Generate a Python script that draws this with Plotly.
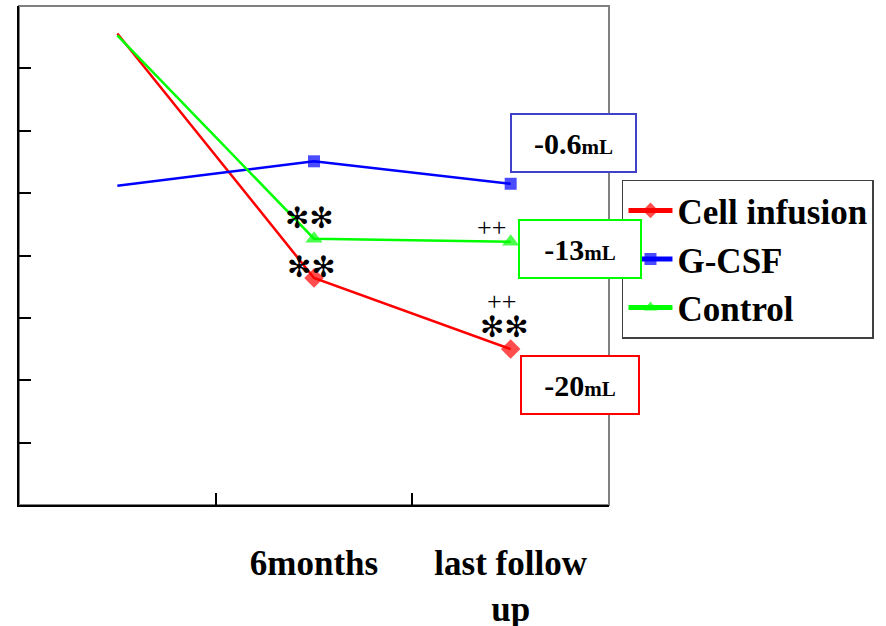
import plotly.graph_objects as go

categories = ["baseline", "6months", "last follow up"]
tick_labels = ["", "<b>6months</b>", "<b>last follow<br>up</b>"]
cell_infusion = [7.56, 3.64, 2.50]
gcsf = [5.12, 5.51, 5.15]
control = [7.53, 4.27, 4.22]

FONT = "Liberation Serif"

fig = go.Figure()
series = [
    ("Cell infusion", cell_infusion, "#FF0000", "diamond", 15),
    ("G-CSF", gcsf, "#0000FF", "square", 12),
    ("Control", control, "#00FF00", "triangle-up", 15),
]
for name, vals, col, sym, sz in series:
    fig.add_trace(go.Scatter(
        x=categories, y=vals, name="<b>" + name + "</b>", mode="lines+markers",
        line=dict(color=col, width=2.5),
        marker=dict(symbol=sym, size=[0, sz, sz], color=col, line=dict(width=0)),
    ))

def box(text, xcat, yval, xs, ys, col, w, h):
    fig.add_annotation(
        x=xcat, y=yval, xref="x", yref="y", xshift=xs, yshift=ys,
        text="<b>" + text + "</b>", showarrow=False, width=w, height=h,
        bordercolor=col, borderwidth=2, borderpad=2, bgcolor="white",
        font=dict(family=FONT, size=30, color="black"),
    )

def mark(text, xcat, yval, xs, ys, size, family=FONT):
    fig.add_annotation(
        x=xcat, y=yval, xref="x", yref="y", xshift=xs, yshift=ys,
        text=text, showarrow=False,
        font=dict(family=family, size=size, color="black"),
    )

mL = "<span style='font-size:21px'>mL</span>"
box("-0.6" + mL, categories[2], gcsf[2], 63, 41, "#4040C8", 119, 52)
box("-13" + mL, categories[2], control[2], 69, -7, "#00FF00", 116, 52)
box("-20" + mL, categories[2], cell_infusion[2], 69, -36, "#FF0000", 112, 52)

STAR = "✻✻"
mark(STAR, categories[1], control[1], -5, 21, 29, family="DejaVu Sans")
mark(STAR, categories[1], cell_infusion[1], -3, 11, 29, family="DejaVu Sans")
mark("++", categories[2], control[2], -19, 14, 26)
mark("++", categories[2], cell_infusion[2], -9, 48, 26)
mark(STAR, categories[2], cell_infusion[2], -6, 22, 29, family="DejaVu Sans")

fig.add_shape(type="rect", xref="paper", yref="paper", x0=0, y0=0, x1=1, y1=1,
              line=dict(color="#808080", width=2), layer="below")

fig.update_layout(
    width=886, height=626,
    font=dict(family=FONT, color="black"),
    margin=dict(l=19, r=277, t=6, b=121, autoexpand=False),
    plot_bgcolor="white", paper_bgcolor="white",
    showlegend=True,
    legend=dict(
        x=1.022, y=0.652, xanchor="left", yanchor="top",
        font=dict(family=FONT, size=35, color="black"),
        bordercolor="#404040", borderwidth=1.5, bgcolor="white",
        itemsizing="constant", tracegroupgap=0, itemwidth=44,
    ),
    xaxis=dict(
        type="category", range=[-0.5, 2.5], automargin=False,
        tickmode="array", tickvals=categories, ticktext=tick_labels,
        tickson="boundaries", ticks="inside", ticklen=12, tickwidth=1.5, tickcolor="black",
        showline=True, linecolor="black", linewidth=2,
        showgrid=False, zeroline=False,
        tickfont=dict(family=FONT, size=35, color="black"),
        ticklabelstandoff=26,
    ),
    yaxis=dict(
        range=[0, 8], dtick=1, tick0=0, automargin=False,
        ticks="inside", ticklen=12, tickwidth=1.5, tickcolor="black",
        showticklabels=False,
        showline=True, linecolor="black", linewidth=2,
        showgrid=False, zeroline=False,
    ),
)

fig.write_html("out.html")
